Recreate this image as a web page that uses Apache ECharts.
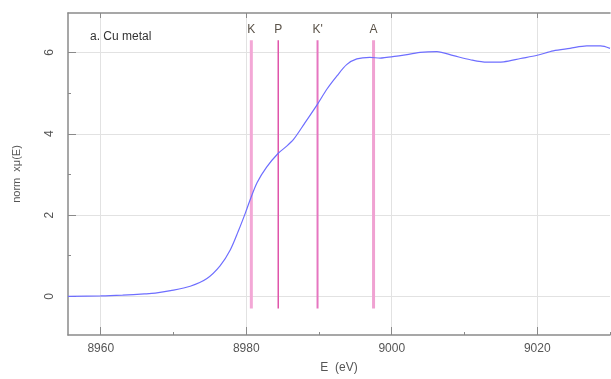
<!DOCTYPE html>
<html>
<head>
<meta charset="utf-8">
<script src="https://cdn.jsdelivr.net/npm/echarts@6/dist/echarts.min.js"></script>
<style>
  html, body { margin: 0; padding: 0; background: #fff; }
  #chart { width: 611px; height: 379px; }
</style>
</head>
<body>
<div id="chart"></div>
<script>
// Cu K-edge XANES
const energy = [8955.5, 8960, 8963, 8966, 8967.5, 8969.6, 8972.3, 8974.6, 8976.4, 8977.8, 8978.9, 8979.9,
  8980.5, 8981.5, 8982.8, 8984.4, 8985.4, 8986.5, 8988, 8989.8, 8991.1, 8992.5, 8993.8, 8995.2, 8997,
  8998.4, 8999.3, 9001.2, 9003.9, 9006.2, 9008.5, 9010.8, 9013.1, 9015.4, 9017.7, 9020, 9022.2, 9024.5,
  9026.8, 9028.7, 9030]
const muNorm = [0.0, 0.01, 0.03, 0.06, 0.08, 0.14, 0.25, 0.44, 0.75, 1.14, 1.6, 2.06,
  2.36, 2.8, 3.18, 3.52, 3.67, 3.86, 4.25, 4.73, 5.1, 5.43, 5.7, 5.84, 5.88,
  5.86, 5.88, 5.92, 6.0, 6.02, 5.92, 5.82, 5.76, 5.77, 5.85, 5.93, 6.04, 6.1,
  6.16, 6.16, 6.1]

// marker lines
const markerNames = ['K', 'P', "K'", 'A']
const markerEnergy = [8980.7, 8984.4, 8989.8, 8997.5]
const markerColors = ['#f3a8d6', '#e055aa', '#e676c0', '#f0a2d2']
const markerWidths = [3, 1.5, 2, 3]
const markerRange = [-0.3, 6.3]

const xMajor = [8960, 8980, 9000, 9020]
const xMinor = [8970, 8990, 9010, 9030]
const yMajor = [0, 2, 4, 6]
const yMinor = [1, 3, 5]

const font = 'Liberation Sans, Arial, sans-serif'
const axisColor = '#8a8a8a'

const chart = echarts.init(document.getElementById('chart'))

const markerSeries = markerNames.map((name, i) => ({
  name,
  type: 'line',
  xAxisIndex: 0,
  yAxisIndex: 0,
  showSymbol: true,
  symbolSize: 0,
  silent: true,
  lineStyle: { color: markerColors[i], width: markerWidths[i] },
  data: [
    [markerEnergy[i], markerRange[0]],
    {
      value: [markerEnergy[i], markerRange[1]],
      label: {
        show: true,
        position: 'top',
        distance: 5,
        formatter: name,
        color: '#5a5248',
        fontSize: 12,
        fontFamily: font
      }
    }
  ]
}))

const plain = v => String(v)

const option = {
  animation: false,
  title: {
    text: 'a. Cu metal',
    left: 85,
    top: 26,
    textStyle: { fontSize: 12, fontWeight: 'normal', color: '#333', fontFamily: font }
  },
  grid: { left: 68, top: 13, right: 1, bottom: 41 },
  xAxis: [
    {
      type: 'value', min: 8955.5, max: 9030, position: 'bottom',
      name: 'E  (eV)', nameLocation: 'middle', nameGap: 27,
      nameTextStyle: { fontSize: 12, color: '#555', fontFamily: font },
      axisLine: { show: true, onZero: false, lineStyle: { color: axisColor, width: 1.5 } },
      axisTick: { show: true, inside: true, length: 8, customValues: xMajor, lineStyle: { color: axisColor } },
      axisLabel: { customValues: xMajor, formatter: plain, color: '#555', fontSize: 12, fontFamily: font, margin: 8 },
      splitLine: { show: true, lineStyle: { color: '#e2e2e2', width: 1 } }
    },
    {
      type: 'value', min: 8955.5, max: 9030, position: 'bottom',
      axisLine: { show: false, onZero: false },
      axisTick: { show: true, inside: true, length: 3, customValues: xMinor, lineStyle: { color: axisColor } },
      axisLabel: { show: false },
      splitLine: { show: false }
    },
    {
      type: 'value', min: 8955.5, max: 9030, position: 'top',
      axisLine: { show: true, onZero: false, lineStyle: { color: axisColor, width: 1.5 } },
      axisTick: { show: true, inside: true, length: 5, customValues: xMajor, lineStyle: { color: axisColor } },
      axisLabel: { show: false },
      splitLine: { show: false }
    }
  ],
  yAxis: [
    {
      type: 'value', min: -0.95, max: 6.97, position: 'left',
      name: 'norm  xμ(E)', nameLocation: 'middle', nameGap: 46, nameRotate: 90,
      nameTextStyle: { fontSize: 11, color: '#555', fontFamily: font },
      axisLine: { show: true, onZero: false, lineStyle: { color: axisColor, width: 1.5 } },
      axisTick: { show: true, inside: true, length: 8, customValues: yMajor, lineStyle: { color: axisColor } },
      axisLabel: { customValues: yMajor, formatter: plain, rotate: 90, color: '#555', fontSize: 12, fontFamily: font, margin: 12 },
      splitLine: { show: true, lineStyle: { color: '#e2e2e2', width: 1 } }
    },
    {
      type: 'value', min: -0.95, max: 6.97, position: 'left',
      axisLine: { show: false, onZero: false },
      axisTick: { show: true, inside: true, length: 3, customValues: yMinor, lineStyle: { color: axisColor } },
      axisLabel: { show: false },
      splitLine: { show: false }
    }
  ],
  series: [
    ...markerSeries,
    {
      name: 'Cu metal',
      type: 'line',
      xAxisIndex: 0,
      yAxisIndex: 0,
      smooth: 0.3,
      showSymbol: false,
      lineStyle: { color: '#6e6eff', width: 1.2 },
      data: energy.map((e, i) => [e, muNorm[i]])
    }
  ]
}

chart.setOption(option)
</script>
</body>
</html>
